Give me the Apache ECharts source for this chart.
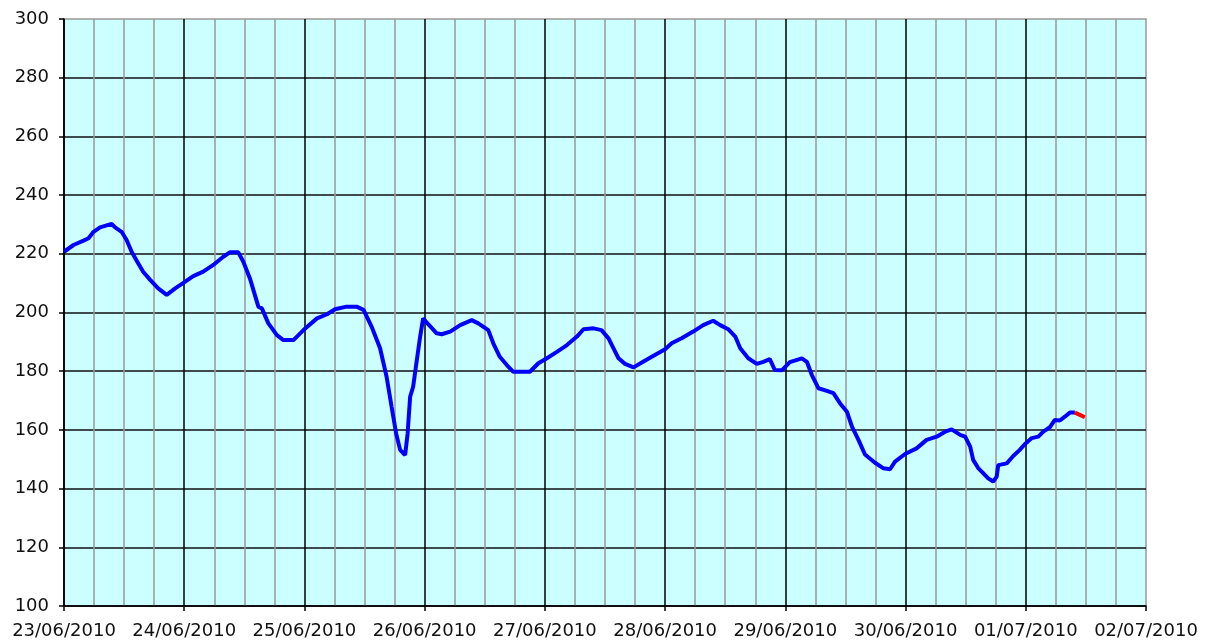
<!DOCTYPE html>
<html>
<head>
<meta charset="utf-8">
<script src="https://cdn.jsdelivr.net/npm/echarts@6/dist/echarts.min.js"></script>
<style>
  html, body { margin: 0; padding: 0; background: #fff; }
  #chart { width: 1216px; height: 644px; }
</style>
</head>
<body>
<div id="chart"></div>
<script>
// x labels, one per day (value axis runs in hours from 23/06 00:00)
var dayLabels = ["23/06/2010", "24/06/2010", "25/06/2010", "26/06/2010", "27/06/2010",
  "28/06/2010", "29/06/2010", "30/06/2010", "01/07/2010", "02/07/2010"];

// blue part of the curve
var hours = [0, 1.9, 3.9, 4.9, 5.9, 7.2, 9.5, 10.2, 11.5, 12.5, 13.5, 14.8, 15.8, 17.2, 18.8,
  20.5, 22.2, 24.2, 25.8, 27.8, 29.8, 31.8, 33.1, 34.8, 35.8, 37.1, 38.8,
  39.5, 40.8, 42.5, 43.8, 45.8, 47.8, 50.5, 52.5, 54.1, 56.4, 58.4, 59.8, 61.4, 63.1,
  64.4, 65.4, 66.3, 67.1, 68.1, 68.6, 69.1, 69.7, 70.3, 71.1, 71.7, 72.7, 74.4, 75.4,
  77.1, 79.1, 81.4, 82.7, 84.7, 85.7, 87.0, 88.4, 89.7, 93.0, 94.7, 96.4, 98.4, 100.4,
  102.4, 103.7, 105.7, 107.3, 108.7, 109.7, 110.7, 112.0, 113.7, 115.6, 117.6, 120.0,
  121.3, 123.3, 125.6, 127.6, 129.6, 131.0, 132.6, 134.0, 135.0, 136.6, 138.3, 139.6,
  140.9, 141.9, 143.3, 144.9, 147.3, 148.3, 149.3, 150.6, 152.3, 153.6, 154.9, 156.3,
  157.3, 158.6, 159.9, 161.9, 163.6, 164.9, 165.9, 167.9, 170.2, 172.2, 174.2, 175.9,
  177.2, 178.9, 179.9, 180.9, 181.5, 182.5, 183.2, 184.5, 185.5, 186.2, 186.5, 188.2,
  189.5, 190.8, 191.8, 193.2, 194.5, 195.5, 196.8, 197.8, 198.8, 199.8, 200.8, 201.8];
var values = [220.7, 223.0, 224.5, 225.3, 227.5, 229.0, 230.2, 229.0, 227.5, 224.7, 220.7,
  216.8, 213.9, 211.1, 208.2, 206.0, 208.2, 210.5, 212.4, 213.9, 216.2, 219.0, 220.5,
  220.5, 217.3, 211.7, 202.0,
  201.4, 196.3, 192.3, 190.6, 190.6, 194.0, 198.0, 199.4, 201.1, 202.0, 202.0, 200.9,
  195.2, 187.8, 178.1, 167.9, 158.8, 153.2, 151.4, 158.8, 171.3, 174.7, 182.1, 191.8,
  198.0, 196.0, 192.9, 192.6, 193.5, 195.7, 197.4, 196.3, 194.0, 189.5, 184.9, 182.1,
  179.8, 179.8, 182.7, 184.4, 186.6, 188.9, 191.8, 194.3, 194.6, 194.0, 191.2, 187.8,
  184.4, 182.5, 181.3, 183.2, 185.2, 187.5, 189.5, 191.2, 193.5, 195.7, 197.2, 195.7,
  194.3, 191.8, 187.8, 184.4, 182.5, 183.2, 184.1, 180.4, 180.3, 183.1, 184.4, 183.2,
  178.7, 174.2, 173.3, 172.5, 169.1, 166.2, 161.1, 156.6, 151.6, 148.8, 146.9, 146.6,
  149.2, 151.8, 153.7, 156.6, 157.7, 159.4, 160.2, 158.3, 157.7, 154.3, 149.8, 147.0,
  145.8, 143.5, 142.4, 144.1, 148.0, 148.6, 151.1, 153.2, 155.1, 157.2, 157.7, 159.4,
  160.9, 163.4, 163.2, 164.5, 165.9, 165.9];

// red tail at the end
var redHours = [201.8, 202.8, 203.8];
var redValues = [165.9, 165.1, 164.3];

var yTicks = [100, 300, 20]; // min, max, step

function pairs(xs, ys) {
  return xs.map(function (x, i) { return [x, ys[i]]; });
}

var font = { fontFamily: "DejaVu Sans", fontSize: 18, color: "#111" };

var chart = echarts.init(document.getElementById("chart"));
chart.setOption({
  animation: false,
  grid: {
    left: 64,
    right: 70,
    top: 19,
    bottom: 38,
    show: true,
    backgroundColor: "#ccffff",
    borderColor: "#999",
    borderWidth: 1.5
  },
  xAxis: {
    type: "value",
    min: 0,
    max: 216,
    interval: 24,
    axisLine: { show: true, lineStyle: { color: "#000", width: 1.5 } },
    axisTick: { show: true, length: 5, lineStyle: { color: "#000", width: 1.5 } },
    axisLabel: Object.assign({
      margin: 16,
      showMinLabel: true,
      showMaxLabel: true,
      formatter: function (v) { return dayLabels[Math.round(v / 24)]; }
    }, font),
    splitLine: { show: true, showMaxLine: false, lineStyle: { color: "#000", width: 1.5 } },
    minorTick: { show: false, splitNumber: 4 },
    minorSplitLine: { show: true, lineStyle: { color: "#999", width: 1.5 } }
  },
  yAxis: {
    type: "value",
    min: yTicks[0],
    max: yTicks[1],
    interval: yTicks[2],
    axisLine: { show: true, lineStyle: { color: "#000", width: 1.5 } },
    axisTick: { show: true, length: 5, lineStyle: { color: "#000", width: 1.5 } },
    axisLabel: Object.assign({ margin: 15 }, font),
    splitLine: { show: true, showMaxLine: false, lineStyle: { color: "#111", width: 1.5 } }
  },
  series: [
    {
      type: "line",
      data: pairs(hours, values),
      showSymbol: false,
      symbol: "none",
      lineStyle: { color: "#0000ff", width: 4 },
      z: 3
    },
    {
      type: "line",
      data: pairs(redHours, redValues),
      showSymbol: false,
      symbol: "none",
      lineStyle: { color: "#ff0000", width: 4 },
      z: 3
    }
  ]
});
</script>
</body>
</html>
